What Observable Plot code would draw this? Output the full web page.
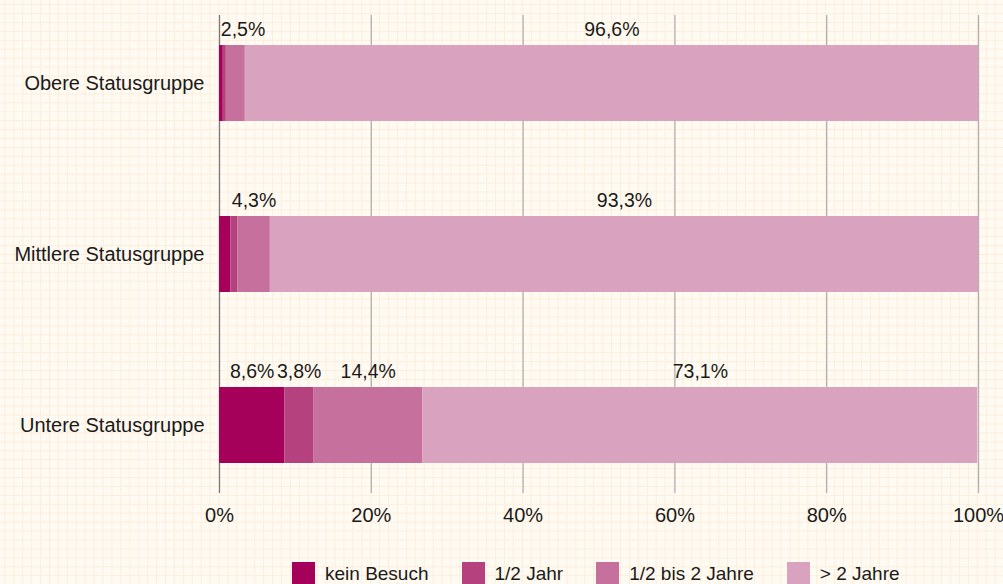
<!DOCTYPE html>
<html>
<head>
<meta charset="utf-8">
<script src="https://cdn.jsdelivr.net/npm/d3@7"></script>
<script src="https://cdn.jsdelivr.net/npm/@observablehq/plot@0.6"></script>
<style>
  html, body { margin: 0; padding: 0; }
  body {
    width: 1003px; height: 584px; overflow: hidden;
    background-color: #fffaf2;
    background-image:
      linear-gradient(to right, #fdeedc 1.4px, transparent 1.4px),
      linear-gradient(to bottom, #fdeedc 1.4px, transparent 1.4px);
    background-size: 8.93px 8.93px;
    background-position: 4.4px 4.2px;
    font-family: "Liberation Sans", Arial, sans-serif;
  }
  .lg-swatch { margin-right: 33px !important; }
  .lg-swatch > svg { margin-right: 10px !important; }
</style>
</head>
<body>
<div id="chart"></div>
<script>
const groups = ["Obere Statusgruppe", "Mittlere Statusgruppe", "Untere Statusgruppe"];
const categories = ["kein Besuch", "1/2 Jahr", "1/2 bis 2 Jahre", "> 2 Jahre"];
const keinBesuch = [0.5, 1.5, 8.6];
const halbesJahr = [0.4, 0.9, 3.8];
const halbBisZwei = [2.5, 4.3, 14.4];
const ueberZwei = [96.6, 93.3, 73.1];
const colors = ["#a5005a", "#b5417e", "#c6719d", "#d9a2bf"];
const xTicks = [0, 20, 40, 60, 80, 100];

const series = [keinBesuch, halbesJahr, halbBisZwei, ueberZwei];
const rows = [];
groups.forEach((g, gi) => {
  let start = 0;
  categories.forEach((c, ci) => {
    const v = series[ci][gi];
    rows.push({group: g, category: c, value: v, start, mid: Math.max(start + v / 2, 3.1)});
    start += v;
  });
});
const labels = rows.filter(d => d.value >= 2);
const fmt = v => String(v.toFixed(1)).replace(".", ",") + "%";

const chart = Plot.plot({
  width: 1003,
  height: 548,
  marginLeft: 219,
  marginRight: 25,
  marginTop: 15,
  marginBottom: 55,
  style: {background: "transparent", fontFamily: "'Liberation Sans', Arial, sans-serif", fontSize: "20px", color: "#1a1a1a"},
  x: {domain: [0, 100]},
  y: {domain: groups, paddingInner: 0.556, paddingOuter: 0.17},
  color: {domain: categories, range: colors},
  marks: [
    Plot.ruleX(xTicks, {stroke: d => d === 0 ? "#7a7a7a" : "#b0b0b0", strokeWidth: 1.3}),
    Plot.barX(rows, {x: "value", y: "group", fill: "category", order: categories}),
    Plot.text(labels, {x: "mid", y: "group", text: d => fmt(d.value), dy: -54, fontSize: 19.5, fill: "#1a1a1a"}),
    Plot.axisX({ticks: xTicks, tickFormat: d => d + "%", tickSize: 0, tickPadding: 14, fontSize: 20, label: null}),
    Plot.axisY({tickSize: 0, tickPadding: 15, fontSize: 20, label: null})
  ]
});
document.getElementById("chart").append(chart);

const legend = Plot.legend({
  color: {domain: categories, range: colors},
  legend: "swatches",
  className: "lg",
  swatchSize: 23,
  style: {marginLeft: "292px", marginTop: "9px", fontSize: "19px", fontFamily: "'Liberation Sans', Arial, sans-serif", color: "#1a1a1a", background: "transparent"}
});
document.getElementById("chart").append(legend);
</script>
</body>
</html>
